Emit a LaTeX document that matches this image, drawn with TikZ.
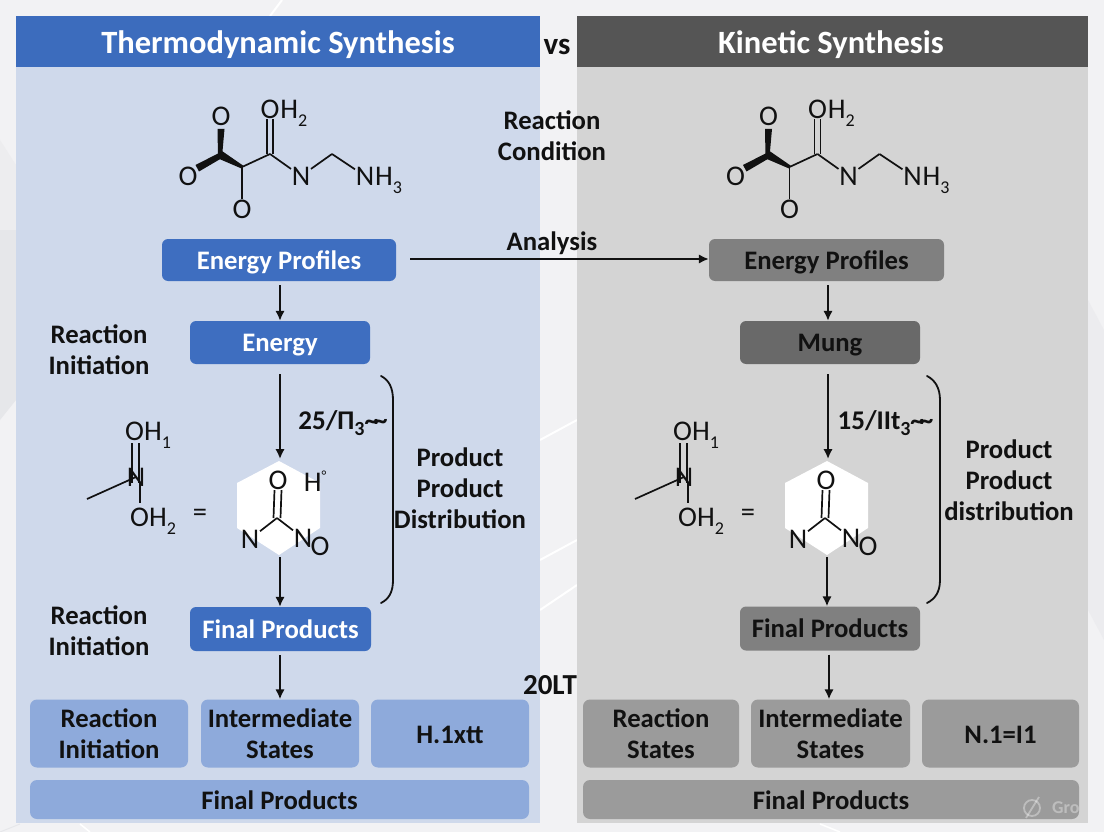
\documentclass[tikz,border=0pt]{standalone}
\usepackage{fontspec}
\setmainfont{Carlito}
\usetikzlibrary{arrows.meta}
\definecolor{bgc}{HTML}{F2F2F4}
\definecolor{facet}{HTML}{E6E7EA}
\definecolor{panelL}{HTML}{CFD9EB}
\definecolor{panelR}{HTML}{D4D4D4}
\definecolor{headL}{HTML}{3C6CBD}
\definecolor{headR}{HTML}{555555}
\definecolor{boxL}{HTML}{3E6EC0}
\definecolor{boxR}{HTML}{808080}
\definecolor{boxRd}{HTML}{696969}
\definecolor{softL}{HTML}{8EAADB}
\definecolor{softR}{HTML}{9B9B9B}
\definecolor{ink}{HTML}{111111}
\newcommand\sbs[1]{\raisebox{-0.28em}{\fontsize{18}{18}\selectfont #1}}
\newcommand\hr{\rule{0pt}{20pt}}
\tikzset{
  flow/.style={line width=2pt,ink,-{Latex[length=10pt,width=9.5pt]}},
  bond/.style={line width=1.7pt,ink},
  wedge/.style={fill=ink,draw=none},
  atom/.style={inner sep=0.6pt,text=ink,font=\fontsize{28.5}{28.5}\selectfont},
  lab/.style={inner sep=0pt,text=ink,align=center,font=\fontsize{26.7}{31}\selectfont\bfseries},
  head/.style={inner sep=0pt,text=white,font=\fontsize{32.5}{32.5}\selectfont\bfseries},
  solid box/.style={rounded corners=6pt,text=white,font=\fontsize{26.7}{31}\selectfont\bfseries,inner sep=0pt,anchor=center,text height=20pt,text depth=1.4pt},
  soft box/.style={rounded corners=7pt,text=ink,align=center,font=\fontsize{26.7}{31}\selectfont\bfseries,inner sep=0pt,anchor=center},
  brace/.style={line width=1.8pt,ink,line cap=round},
}
% first molecule: #1 = x offset, #2 = name prefix
\newcommand\moleculeA[2]{%
\begin{scope}[xshift=#1pt]
  \coordinate (#2c1) at (220,156);
  \coordinate (#2c2) at (242,167);
  \coordinate (#2c3) at (270,154);
  \coordinate (#2c4) at (332,154);
  \node[atom] (#2o1) at (221,116) {O};
  \node[atom] (#2o2) at (188,176) {O};
  \node[atom] (#2o3) at (242,209) {O};
  \node[atom] (#2o4) at (270,109) {O};
  \node[atom,anchor=base west,inner sep=0pt] (#2h4) at (#2o4.base east) {H\sbs{2}};
  \node[atom] (#2n1) at (301,176) {N};
  \node[atom] (#2n2) at (365,176) {N};
  \node[atom,anchor=base west,inner sep=0pt] (#2h2) at (#2n2.base east) {H\sbs{3}};
  \fill[wedge] (217.5,129) -- (224.5,129) -- (222,157) -- (218,157) -- cycle;
  \fill[wedge] (219,153) -- (222,158) -- (199,171.5) -- (195.5,165) -- cycle;
  \fill[wedge] (217,158) -- (222,151) -- (243,165.5) -- (241.5,168.5) -- cycle;
  \draw[bond] (#2c2) -- (#2c3);
  \draw[bond] (#2c2) -- (#2o3);
  \draw[bond] ([xshift=-3pt]#2c3) -- ([xshift=-3pt]#2o4.south);
  \draw[bond] ([xshift=3pt]#2c3) -- ([xshift=3pt]#2o4.south);
  \draw[bond] (#2c3) -- (#2n1);
  \draw[bond] (#2n1) -- (#2c4);
  \draw[bond] (#2c4) -- (#2n2);
\end{scope}}
% second molecule with white hexagon: #3 = extra H label
\newcommand\moleculeB[3]{%
\begin{scope}[xshift=#1pt]
  \fill[white] (279,461) -- (320,483) -- (320,528) -- (279,555) -- (237,528) -- (237,483) -- cycle;
  \node[atom,anchor=base west,inner sep=0pt] (#2oa) at (125,440.5) {OH\sbs{1}};
  \node[atom] (#2na) at (136,477) {N};
  \node[atom,anchor=base west,inner sep=0pt] (#2ob) at (130,526.5) {OH\sbs{2}};
  \node[atom] (#2eq) at (200,515) {=};
  \coordinate (#2tail) at (87,499);
  \coordinate (#2ctr) at (277,518);
  \node[atom] (#2oc) at (278,480) {O};
  \node[atom] (#2nc) at (250,539) {N};
  \node[atom] (#2nd) at (303,538) {N};
  \node[atom] (#2oe) at (320,546) {O};
  #3
  \draw[bond] (#2tail) -- (#2na.center);
  \draw[bond] (132,443) -- (132,483);
  \draw[bond] (139,443) -- (139,483);
  \draw[bond] (140,483) -- (140,503);
  \draw[bond] ([xshift=-3.5pt]#2ctr) -- ([xshift=-3.5pt]#2oc.south);
  \draw[bond] ([xshift=3.5pt]#2ctr) -- ([xshift=3.5pt]#2oc.south);
  \draw[bond] (#2ctr) -- (#2nc);
  \draw[bond] (#2ctr) -- (#2nd);
\end{scope}}
\begin{document}
\begin{tikzpicture}[x=1pt,y=-1pt]
\useasboundingbox (0,0) rectangle (1104,832);
\fill[bgc] (0,0) rectangle (1104,832);
% faint background facets
\fill[facet!45!bgc] (0,140) -- (16,165) -- (16,330) -- (0,300) -- cycle;
\fill[facet] (0,230) -- (16,230) -- (16,400) -- (0,420) -- cycle;
\fill[facet!50!bgc] (1088,300) -- (1104,330) -- (1104,640) -- (1088,610) -- cycle;
\draw[white,line width=2pt] (270,16) -- (282,0);
\draw[white,line width=2pt] (540,440) -- (577,420);
\draw[white,line width=2pt] (540,560) -- (577,540);
\draw[white,line width=2pt] (540,610) -- (577,585);
\draw[facet,line width=1pt] (0,832) -- (20,824);
\draw[white,line width=1.5pt] (80,824) -- (90,832);
\draw[white,line width=1.5pt] (820,824) -- (840,832);
% panels
\fill[panelL] (16,67) rectangle (540,823);
\fill[panelR] (577,67) rectangle (1088,823);
\fill[headL] (16,16) rectangle (540,67);
\fill[headR] (577,16) rectangle (1088,67);
\node[head] (thtitle) at (278,45) {Thermodynamic Synthesis};
\node[head] (kititle) at (831,45) {Kinetic Synthesis};
\node[lab,font=\fontsize{31}{31}\selectfont\bfseries] (vs) at (557,47) {vs};
\node[lab] (cond) at (552,135.5) {Reaction\\Condition};
\moleculeA{0}{a}
\moleculeA{547.5}{b}
% solid boxes
\node[solid box,fill=boxL,minimum width=234pt,minimum height=42pt] (epL) at (279,260) {Energy Profiles};
\node[solid box,fill=boxR,text=ink,minimum width=235pt,minimum height=42pt] (epR) at (826.5,260) {Energy Profiles};
\node[lab] (ana) at (552,243) {Analysis};
\draw[flow] (epL.east) ++(14,-1) coordinate (anaS) -- (epR.west |- anaS);
\node[solid box,fill=boxL,minimum width=180pt,minimum height=43pt] (enL) at (280,342.5) {Energy};
\node[solid box,fill=boxRd,text=ink,minimum width=180pt,minimum height=43pt] (enR) at (830,342.5) {Mung};
\node[lab] (riA) at (99,350) {Reaction\\Initiation};
\node[lab] (riB) at (99,631) {Reaction\\Initiation};
\moleculeB{0}{c}{\node[atom] (cH) at (315,481) {H\raisebox{0.4em}{\fontsize{14}{14}\selectfont °}};}
\moleculeB{548}{d}{}
\coordinate (hexLtop) at (280,459);
\coordinate (hexLbot) at (280,557);
\coordinate (hexRtop) at (828,459);
\coordinate (hexRbot) at (827,557);
\newcommand\twave{\textasciitilde\kern-4pt\textasciitilde}
\node[lab,font=\fontsize{27}{31}\selectfont\bfseries] (mL) at (343,423) {25/Π\raisebox{-0.22em}{\fontsize{20}{20}\selectfont 3}\twave};
\node[lab,font=\fontsize{27}{31}\selectfont\bfseries] (mR) at (885.5,423) {15/IIt\raisebox{-0.22em}{\fontsize{20}{20}\selectfont 3}\twave};
\node[solid box,fill=boxL,minimum width=181pt,minimum height=44pt] (fpL) at (280.5,629) {Final Products};
\node[solid box,fill=boxR,text=ink,minimum width=180pt,minimum height=44pt] (fpR) at (830,628.5) {Final Products};
\node[lab] (pdL) at (460,488) {Product\\Product\\Distribution};
\node[lab] (pdR) at (1009,480) {Product\\Product\\distribution};
% bracket lines
\draw[brace] (381,376) .. controls (389,380) and (393,388) .. (393,400) -- (393,580) .. controls (393,592) and (389,599) .. (381,603);
\draw[brace] (927,376) .. controls (935,380) and (940,388) .. (940,400) -- (940,580) .. controls (940,592) and (935,599) .. (927,603);
% bottom rows
\node[soft box,fill=softL,minimum width=158pt,minimum height=68pt] (b1) at (109,733.5) {\hr Reaction\\Initiation};
\node[soft box,fill=softL,minimum width=158pt,minimum height=68pt] (b2) at (280,733.5) {\hr Intermediate\\States};
\node[soft box,fill=softL,minimum width=158pt,minimum height=68pt] (b3) at (450,733.5) {\hr H.1xtt};
\node[soft box,fill=softL,minimum width=499pt,minimum height=39pt] (b4) at (279.5,799.5) {\hr Final Products};
\node[soft box,fill=softR,minimum width=156pt,minimum height=68pt] (r1) at (661,733.5) {\hr Reaction\\States};
\node[soft box,fill=softR,minimum width=159pt,minimum height=68pt] (r2) at (830.5,733.5) {\hr Intermediate\\States};
\node[soft box,fill=softR,minimum width=157pt,minimum height=68pt] (r3) at (1000.5,733.5) {\hr N.1=I1};
\node[soft box,fill=softR,minimum width=496pt,minimum height=39pt] (r4) at (831,799.5) {\hr Final Products};
\node[lab,font=\fontsize{29}{31}\selectfont\bfseries] (midn) at (550,685) {20LT};
% connectors
\draw[flow,shorten <=4pt] (epL.south -| 280,0) -- (enL.north -| 280,0);
\draw[flow,shorten <=4pt] (epR.south -| 828,0) -- (enR.north -| 828,0);
\draw[flow,shorten <=10pt] (enL.south -| 280,0) -- (hexLtop);
\draw[flow,shorten <=10pt] (enR.south -| 828,0) -- (hexRtop);
\draw[flow] (hexLbot) -- (fpL.north -| hexLbot);
\draw[flow] (hexRbot) -- (fpR.north -| hexRbot);
\draw[flow,shorten <=4pt] (fpL.south -| 280,0) -- (b2.north -| 280,0);
\draw[flow,shorten <=4pt] (fpR.south -| 829,0) -- (r2.north -| 829,0);
% watermark
\begin{scope}[white,opacity=0.35]
\draw[line width=1.8pt] (1032,808) circle (8pt);
\draw[line width=1.8pt] (1026,818) -- (1039,797);
\node[inner sep=0pt,font=\fontsize{18}{18}\selectfont\bfseries,anchor=west] (wm) at (1052,808) {Gro};
\end{scope}
\end{tikzpicture}
\end{document}
